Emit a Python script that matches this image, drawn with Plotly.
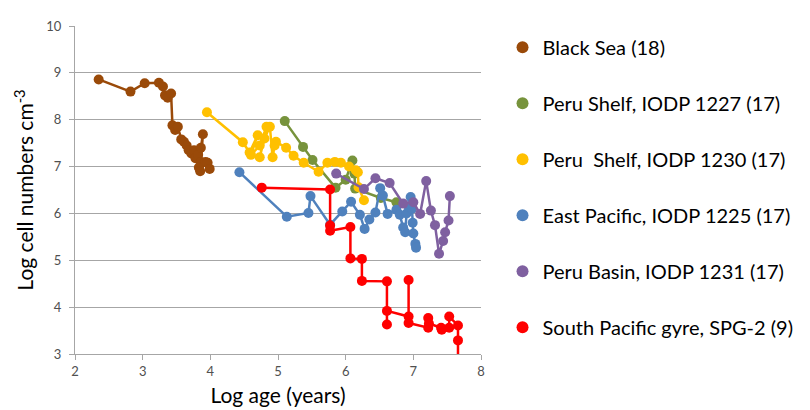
import plotly.graph_objects as go

# ---- data (log age in years, log cell numbers per cm3) ----
black_sea_x = [2.35, 2.82, 3.03, 3.24, 3.30, 3.33, 3.37, 3.42, 3.44, 3.48, 3.52, 3.57, 3.61, 3.65,
               3.68, 3.72, 3.76, 3.78, 3.82, 3.86, 3.89, 3.86, 3.83, 3.85, 3.93, 3.96, 3.99]
black_sea_y = [8.86, 8.60, 8.78, 8.79, 8.71, 8.52, 8.47, 8.56, 7.88, 7.78, 7.85, 7.58, 7.53, 7.45,
               7.35, 7.28, 7.35, 7.18, 7.25, 7.40, 7.69, 7.10, 6.98, 6.90, 7.10, 7.08, 6.95]

peru1227_x = [5.10, 5.37, 5.51, 5.85, 6.00, 6.10, 6.13, 6.14, 6.52, 6.75]
peru1227_y = [7.97, 7.42, 7.14, 6.55, 6.72, 7.13, 6.85, 6.53, 6.33, 6.24]

peru1230_x = [3.95, 4.48, 4.58, 4.70, 4.60, 4.73, 4.83, 4.73, 4.80, 4.88, 4.92, 4.95, 4.97,
              5.12, 5.23, 5.38, 5.60, 5.73, 5.84, 5.93, 6.05, 6.15, 6.18, 6.19, 6.27]
peru1230_y = [8.16, 7.52, 7.30, 7.67, 7.25, 7.45, 7.85, 7.20, 7.60, 7.85, 7.20, 7.45, 7.53,
              7.40, 7.23, 7.08, 6.89, 7.08, 7.10, 7.08, 7.00, 6.92, 6.88, 6.56, 6.28]

eastpac_x = [4.43, 5.13, 5.45, 5.48, 5.77, 5.95, 6.08, 6.21, 6.28, 6.35, 6.44, 6.51, 6.55,
             6.62, 6.75, 6.80, 6.85, 6.88, 6.90, 6.93, 6.96, 6.98, 6.99, 7.00, 7.03, 7.04]
eastpac_y = [6.88, 5.93, 6.01, 6.37, 5.76, 6.04, 6.25, 5.97, 5.67, 5.87, 6.02, 6.54, 6.38,
             5.99, 6.08, 5.97, 5.70, 5.60, 6.00, 6.15, 6.35, 6.10, 5.80, 5.57, 5.35, 5.27]

perubasin_x = [5.86, 6.27, 6.44, 6.65, 6.85, 7.00, 7.10, 7.19, 7.26, 7.32, 7.38, 7.44, 7.47, 7.52, 7.54]
perubasin_y = [6.85, 6.52, 6.75, 6.65, 6.21, 6.24, 5.99, 6.69, 6.06, 5.75, 5.14, 5.41, 5.60, 5.85, 6.37]

spg_x = [4.76, 5.77, 5.77, 5.77, 6.07, 6.07, 6.24, 6.24, 6.61, 6.61, 6.61, 6.93, 6.93, 6.93,
         7.22, 7.22, 7.23, 7.41, 7.42, 7.53, 7.53, 7.66, 7.66, 7.66]
spg_y = [6.55, 6.51, 5.74, 5.63, 5.71, 5.04, 5.03, 4.56, 4.55, 3.63, 3.92, 3.80, 4.58, 3.66,
         3.56, 3.77, 3.65, 3.56, 3.52, 3.56, 3.80, 3.61, 3.29, 2.60]

series = [
    ("Black Sea (18)", black_sea_x, black_sea_y, "#9A4A09"),
    ("Peru Shelf, IODP 1227 (17)", peru1227_x, peru1227_y, "#77933C"),
    ("Peru  Shelf, IODP 1230 (17)", peru1230_x, peru1230_y, "#FFC000"),
    ("East Pacific, IODP 1225 (17)", eastpac_x, eastpac_y, "#4F81BD"),
    ("Peru Basin, IODP 1231 (17)", perubasin_x, perubasin_y, "#7F60A0"),
    ("South Pacific gyre, SPG-2 (9)", spg_x, spg_y, "#FF0000"),
]

x_ticks = [2, 3, 4, 5, 6, 7, 8]
y_ticks = [3, 4, 5, 6, 7, 8, 9, 10]

FONT = "Lato, 'Open Sans', Arial, sans-serif"

fig = go.Figure()
# data traces (drawn so that later series sit on top like the original)
draw_order = [1, 2, 0, 3, 4, 5]
for i in draw_order:
    name, xs, ys, col = series[i]
    fig.add_trace(go.Scatter(
        x=xs, y=ys, mode="lines+markers", name=name, showlegend=False,
        line=dict(color=col, width=2.5),
        marker=dict(color=col, size=10),
    ))
# legend entries (marker only)
for k, (name, xs, ys, col) in enumerate(series):
    fig.add_trace(go.Scatter(
        x=[None], y=[None], mode="markers", name=name, legendgroup=f"g{k}",
        marker=dict(color=col, size=14),
    ))

fig.update_layout(
    width=810, height=410,
    margin=dict(l=67, r=337, t=10, b=64),
    paper_bgcolor="white", plot_bgcolor="white",
    font=dict(family=FONT, color="#000000"),
    showlegend=True,
    legend=dict(
        x=1.053, y=0.995, xanchor="left", yanchor="top",
        font=dict(size=20, family=FONT, color="#000000"),
        tracegroupgap=27, itemsizing="constant",
        bgcolor="rgba(0,0,0,0)",
    ),
    xaxis=dict(
        range=[2, 8], tickvals=x_ticks, showgrid=False, zeroline=False,
        showline=True, linecolor="#A6A6A6", linewidth=1,
        ticks="outside", ticklen=5, tickcolor="#A6A6A6",
        tickfont=dict(size=13, color="#505050", family=FONT),
        title=dict(text="Log age (years)", font=dict(size=21, color="#000000", family=FONT), standoff=10),
    ),
    yaxis=dict(
        range=[3, 10], tickvals=y_ticks, showgrid=True, gridcolor="#A6A6A6", gridwidth=1,
        zeroline=False, showline=True, linecolor="#A6A6A6", linewidth=1,
        ticks="outside", ticklen=5, tickcolor="#A6A6A6", ticklabelstandoff=5,
        tickfont=dict(size=13, color="#505050", family=FONT),
        title=dict(text="Log cell numbers cm<sup>-3</sup>", font=dict(size=21, color="#000000", family=FONT), standoff=6),
    ),
)

fig.write_html("out.html")
